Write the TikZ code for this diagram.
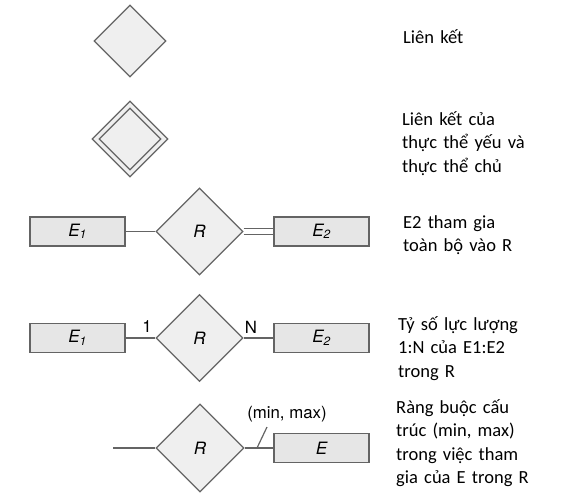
\documentclass[tikz,border=0pt]{standalone}
\usepackage{fontspec}
\setmainfont{Carlito}
\newfontfamily\herosf{TeX Gyre Heros}
\newfontfamily\carl{Carlito}
\usetikzlibrary{shapes.geometric}
\definecolor{dfill}{HTML}{EFEFEF}
\definecolor{rfill}{HTML}{E6E6E6}
\definecolor{edge}{HTML}{646464}
\tikzset{
  rel/.style={shape=diamond, draw=edge, fill=dfill, line width=1.2pt, inner sep=0pt, aspect=1, minimum width=#1, minimum height=#1, font=\herosf\itshape\fontsize{17}{19}\selectfont},
  ent/.style={draw=edge, fill=rfill, line width=1.2pt, minimum width=95pt, minimum height=29pt, inner sep=0pt, font=\herosf\itshape\fontsize{17}{19}\selectfont},
  conn/.style={draw=edge, line width=1.2pt},
  lab/.style={font=\herosf\fontsize{16.8}{19}\selectfont, inner sep=0pt},
  desc/.style={font=\carl\fontsize{18.5}{23.5}\selectfont, anchor=base west, align=left, text width=175pt, inner sep=0pt}
}
\begin{document}
\begin{tikzpicture}[x=1pt,y=-1pt]
\useasboundingbox (0,0) rectangle (573,499);
% row 1
\node[rel=72pt] (d1) at (130,41) {};
\node[desc] (t1) at (403,43) {Liên kết};
% row 2
\node[rel=76pt] (d2o) at (130,139) {};
\node[rel=62pt, fill=dfill] (d2i) at (130,139) {};
\node[desc] (t2) at (402,125) {Liên kết của\\thực thể yếu và\\thực thể chủ};
% row 3
\node[ent] (a1) at (77.5,231.5) {E\textsubscript{1}};
\node[rel=87pt] (r3) at (199.5,231.5) {R};
\node[ent] (a2) at (321.5,231.5) {E\textsubscript{2}};
\draw[conn] (a1.east) -- (r3.west);
\draw[conn] ([yshift=-3pt]r3.east) -- ([yshift=-3pt]a2.west);
\draw[conn] ([yshift=3pt]r3.east) -- ([yshift=3pt]a2.west);
\node[desc] (t3) at (403,228) {E2 tham gia\\toàn bộ vào R};
% row 4
\node[ent] (b1) at (77.5,338) {E\textsubscript{1}};
\node[rel=87pt] (r4) at (199.5,338) {R};
\node[ent] (b2) at (321.5,338) {E\textsubscript{2}};
\draw[conn] (b1.east) -- (r4.west);
\draw[conn] (r4.east) -- (b2.west);
\node[lab] (one) at (147,327) {1};
\node[lab] (nn) at (251,327) {N};
\node[desc] (t4) at (398,330) {Tỷ số lực lượng\\1:N của E1:E2\\trong R};
% row 5
\coordinate (free) at (113,448);
\node[rel=88pt] (r5) at (200,448) {R};
\node[ent] (c1) at (321.5,448) {E};
\draw[conn] (free) -- (r5.west);
\draw[conn] (r5.east) -- (c1.west);
\coordinate (tick) at (257,448);
\node[lab] (mm) at (287,414) {(min, max)};
\draw[conn] (tick) -- (267,427);
\node[desc] (t5) at (396,413) {Ràng buộc cấu\\trúc (min, max)\\trong việc tham\\gia của E trong R};
\end{tikzpicture}
\end{document}
